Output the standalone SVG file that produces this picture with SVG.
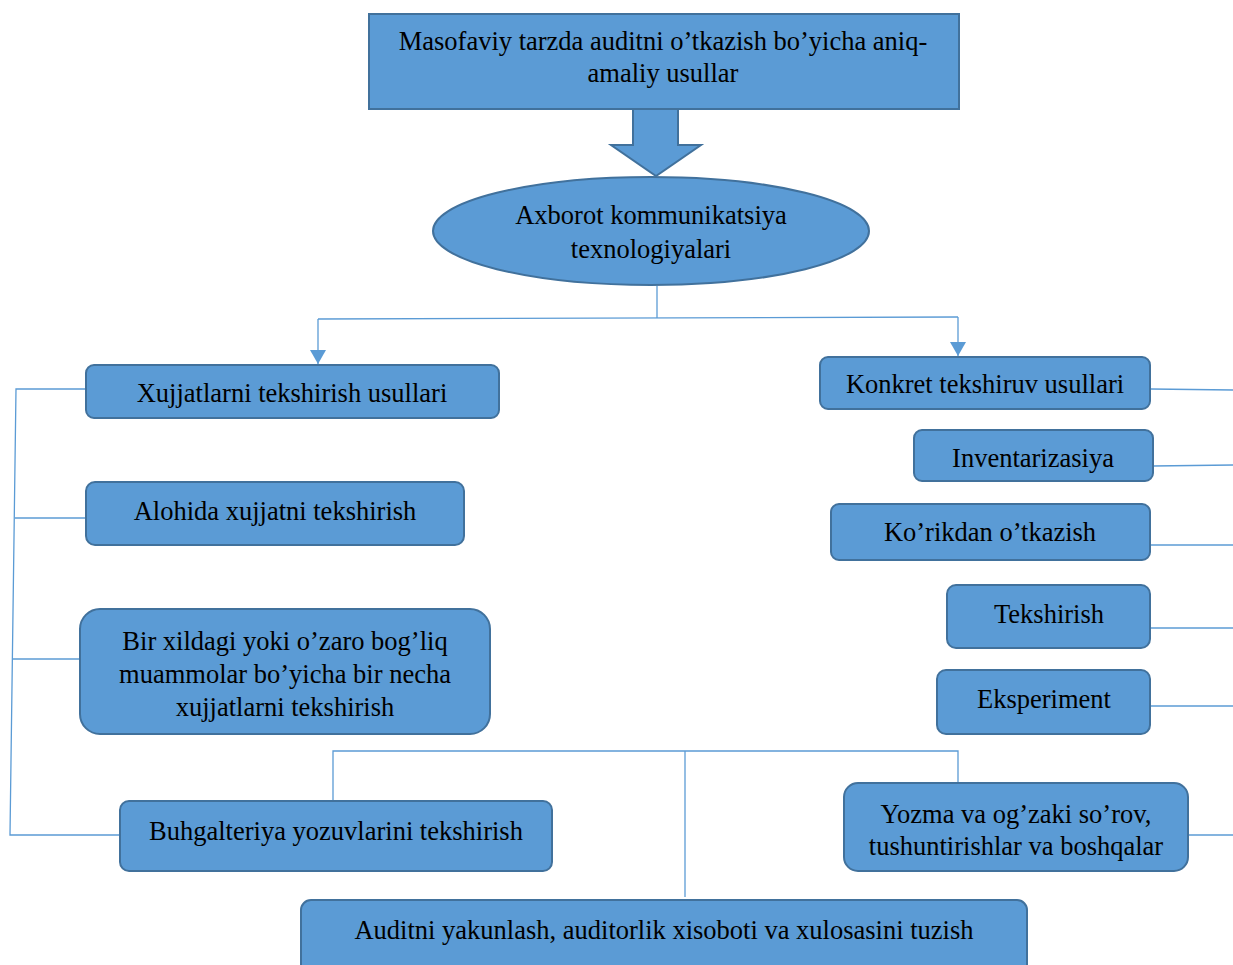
<svg xmlns="http://www.w3.org/2000/svg" width="1233" height="965" viewBox="0 0 1233 965">
<style>
.n{fill:#5B9BD5;stroke:#41719C;stroke-width:2}
.t{font-family:"Liberation Serif","Times New Roman",serif;font-size:26.5px;fill:#000;text-anchor:middle;dominant-baseline:central}
.c{fill:none;stroke:#5B9BD5;stroke-width:1.3}
</style>
<defs>
<marker id="ar" markerWidth="14" markerHeight="16" refX="14" refY="8" orient="auto" markerUnits="userSpaceOnUse" viewBox="0 0 14 16">
<path d="M0,0 L14,8 L0,16 Z" fill="#5B9BD5"/>
</marker>
</defs>
<rect width="1233" height="965" fill="#fff"/>
<g id="connectors">
<path class="c" d="M657,286 V318"/>
<path class="c" d="M318,319 L958,317"/>
<path class="c" d="M318,319 V364" marker-end="url(#ar)"/>
<path class="c" d="M958,317 V356" marker-end="url(#ar)"/>
<path class="c" d="M86,389 H16 L10,835 H120"/>
<path class="c" d="M15,518 H86"/>
<path class="c" d="M13,659 H80"/>
<path class="c" d="M1151,389 L1233,390"/>
<path class="c" d="M1153,466 L1233,465"/>
<path class="c" d="M1150,545 H1233"/>
<path class="c" d="M1150,628 H1233"/>
<path class="c" d="M1150,706 H1233"/>
<path class="c" d="M1188,835 H1233"/>
<path class="c" d="M333,801 V751 H958 V782"/>
<path class="c" d="M685,751 V897"/>
</g>
<g id="top">
<rect class="n" x="369" y="14" width="590" height="95"/>
<text class="t" x="663" y="41">Masofaviy tarzda auditni o’tkazish bo’yicha aniq-</text>
<text class="t" x="663" y="73">amaliy usullar</text>
</g>
<g id="bigarrow">
<path class="n" d="M633,109 H678 V145 H701 L656,176 L611,145 H633 Z"/>
</g>
<g id="akt">
<ellipse class="n" cx="651" cy="231" rx="218" ry="54"/>
<text class="t" x="651" y="215">Axborot kommunikatsiya</text>
<text class="t" x="651" y="249">texnologiyalari</text>
</g>
<g id="xujjat">
<rect class="n" x="86" y="365" width="413" height="53" rx="8"/>
<text class="t" x="292" y="393">Xujjatlarni tekshirish usullari</text>
</g>
<g id="alohida">
<rect class="n" x="86" y="482" width="378" height="63" rx="9"/>
<text class="t" x="275" y="511">Alohida xujjatni tekshirish</text>
</g>
<g id="birxil">
<rect class="n" x="80" y="609" width="410" height="125" rx="20"/>
<text class="t" x="285" y="641">Bir xildagi yoki o’zaro bog’liq</text>
<text class="t" x="285" y="674">muammolar bo’yicha bir necha</text>
<text class="t" x="285" y="707">xujjatlarni tekshirish</text>
</g>
<g id="buhgalteriya">
<rect class="n" x="120" y="801" width="432" height="70" rx="9"/>
<text class="t" x="336" y="831">Buhgalteriya yozuvlarini tekshirish</text>
</g>
<g id="konkret">
<rect class="n" x="820" y="357" width="330" height="52" rx="8"/>
<text class="t" x="985" y="384">Konkret tekshiruv usullari</text>
</g>
<g id="inventar">
<rect class="n" x="914" y="430" width="239" height="51" rx="8"/>
<text class="t" x="1033" y="458">Inventarizasiya</text>
</g>
<g id="korik">
<rect class="n" x="831" y="504" width="319" height="56" rx="8"/>
<text class="t" x="990" y="532">Ko’rikdan o’tkazish</text>
</g>
<g id="tekshirish">
<rect class="n" x="947" y="585" width="203" height="63" rx="9"/>
<text class="t" x="1049" y="614">Tekshirish</text>
</g>
<g id="eksperiment">
<rect class="n" x="937" y="670" width="213" height="64" rx="9"/>
<text class="t" x="1044" y="699">Eksperiment</text>
</g>
<g id="yozma">
<rect class="n" x="844" y="783" width="344" height="88" rx="14"/>
<text class="t" x="1016" y="814">Yozma va og’zaki so’rov,</text>
<text class="t" x="1016" y="846">tushuntirishlar va boshqalar</text>
</g>
<g id="auditni">
<rect class="n" x="301" y="900" width="726" height="75" rx="10"/>
<text class="t" x="664" y="930">Auditni yakunlash, auditorlik xisoboti va xulosasini tuzish</text>
</g>
</svg>
